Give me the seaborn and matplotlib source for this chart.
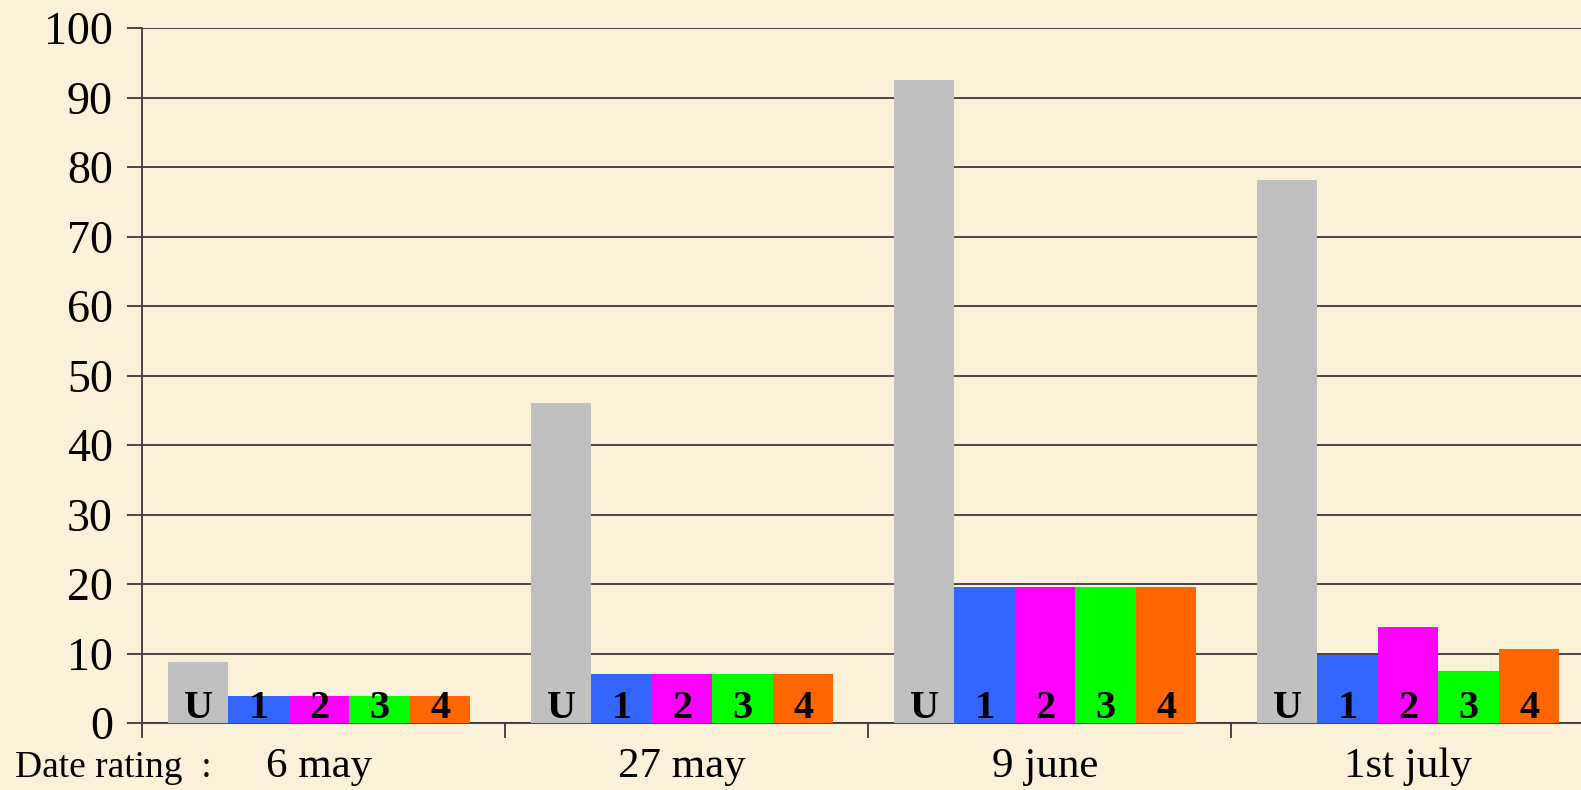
import matplotlib
matplotlib.use('Agg')

import pandas as pd
import matplotlib.pyplot as plt
import seaborn as sns

# datos
fechas = ['6 may', '27 may', '9 june', '1st july']
notas = ['U', '1', '2', '3', '4']
val_u = [8.8, 46.0, 92.5, 78.2]
val_1 = [3.9, 7.0, 19.5, 9.8]
val_2 = [3.9, 7.0, 19.5, 13.8]
val_3 = [3.9, 7.0, 19.5, 7.5]
val_4 = [3.9, 7.0, 19.5, 10.6]
colores = ['#C0C0C0', '#3366FF', '#FF00FF', '#00FF00', '#FF6600']

series = [val_u, val_1, val_2, val_3, val_4]
filas = []
for nota, vals in zip(notas, series):
    for fecha, v in zip(fechas, vals):
        filas.append({'fecha': fecha, 'nota': nota, 'valor': v})
df = pd.DataFrame(filas)

sns.set_theme(style='white')
plt.rcParams['font.family'] = ['Liberation Serif', 'DejaVu Serif']

fondo = '#FBF0D8'
fig = plt.figure(figsize=(15.81, 7.90), dpi=100, facecolor=fondo)
ax = fig.add_axes([142 / 1581, 67 / 790, 1452 / 1581, 695 / 790])
ax.set_facecolor(fondo)

sns.barplot(data=df, x='fecha', y='valor', hue='nota', palette=colores,
            width=5 / 6, gap=0, saturation=1, legend=False, ax=ax,
            edgecolor='none', linewidth=0, zorder=3)

# etiquetas dentro de las barras
for nota, cont in zip(notas, ax.containers):
    for bar in cont:
        ax.text(bar.get_x() + bar.get_width() / 2, 0.7, nota, ha='center',
                va='baseline', fontsize=29, fontweight='bold', color='black',
                zorder=4)

x0 = -0.488
ax.set_xlim(x0, x0 + 4)
ax.set_ylim(0, 100)
ax.set_yticks(range(0, 101, 10))
ax.yaxis.grid(True, color='#3a3a3a', linewidth=1.3, zorder=1)
ax.xaxis.grid(False)

for s in ['top', 'right']:
    ax.spines[s].set_visible(False)
ax.spines['left'].set_color('#3a3a3a')
ax.spines['bottom'].set_color('#3a3a3a')
ax.spines['left'].set_linewidth(1.3)
ax.spines['bottom'].set_linewidth(1.3)

ax.set_xticks([x0, x0 + 1, x0 + 2, x0 + 3], minor=True)
ax.tick_params(axis='x', which='minor', direction='out', length=11,
               width=1.3, color='#3a3a3a', bottom=True)
ax.tick_params(axis='x', which='major', length=0, pad=18, labelsize=31,
               labelcolor='black')
ax.tick_params(axis='y', direction='out', length=11, width=1.3,
               color='#3a3a3a', left=True, pad=10, labelsize=33,
               labelcolor='black')

ax.set_xlabel('')
ax.set_ylabel('')

fig.text(15 / 1581, 1 - 768 / 790, 'Date rating  :', fontsize=27,
         va='center', ha='left', color='black')

plt.savefig('out.png', dpi=100, facecolor=fondo)
